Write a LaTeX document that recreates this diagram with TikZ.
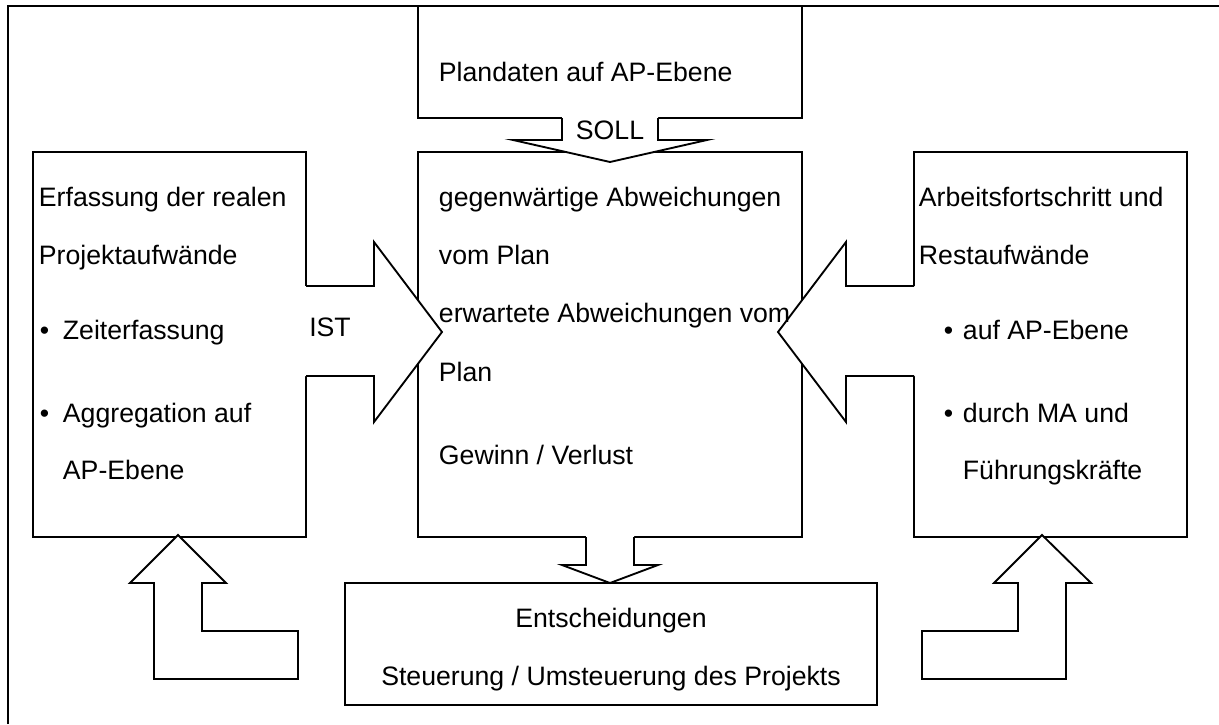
\documentclass[tikz,border=0pt]{standalone}
\usepackage{fontspec}
\setmainfont{Liberation Sans}
\usetikzlibrary{fit}
\begin{document}
\begin{tikzpicture}[x=0.75pt,y=-0.75pt,
  line width=1.4pt, line join=miter,
  box/.style={draw, inner sep=0pt, fill=white},
  blockarrow/.style={draw, fill=white},
  txt/.style={anchor=base west, inner sep=0pt, font=\fontsize{20}{24}\selectfont},
  ctxt/.style={anchor=base, inner sep=0pt, font=\fontsize{20}{24}\selectfont}]
\useasboundingbox (0,0) rectangle (1219,724);

% boxes
\node[box, fit={(418,6) (802,118)}] (plan) {};
\node[box, fit={(418,152) (802,537)}] (mid) {};
\node[box, fit={(33,152) (306,537)}] (ist) {};
\node[box, fit={(914,152) (1187,537)}] (rest) {};
\node[box, fit={(345,583) (877,705)}] (dec) {};

% frame lines
\draw (8,724) -- (8,6) -- (1219,6);

% SOLL arrow (plan -> mid)
\fill[white] (562,117) -- (562,140) -- (513,140) -- (610,162) -- (707,140) -- (658,140) -- (658,117) -- cycle;
\draw (562,118) -- (562,140) -- (513,140) -- (610,162) -- (707,140) -- (658,140) -- (658,118);
% IST arrow (ist -> mid)
\fill[white] (305,286) -- (374,286) -- (374,242) -- (442,332) -- (374,422) -- (374,376) -- (305,376) -- cycle;
\draw (306,286) -- (374,286) -- (374,242) -- (442,332) -- (374,422) -- (374,376) -- (306,376);
% arrow rest -> mid
\fill[white] (915,286) -- (846,286) -- (846,242) -- (778,332) -- (846,422) -- (846,376) -- (915,376) -- cycle;
\draw (914,286) -- (846,286) -- (846,242) -- (778,332) -- (846,422) -- (846,376) -- (914,376);
% arrow mid -> dec
\fill[white] (586,536) -- (586,565) -- (562,565) -- (610,583) -- (658,565) -- (634,565) -- (634,536) -- cycle;
\draw (586,537) -- (586,565) -- (562,565) -- (610,583) -- (658,565) -- (634,565) -- (634,537);
% bent arrows back up
\draw[blockarrow] (154,679) -- (154,583) -- (130,583) -- (178,535) -- (226,583) -- (202,583) -- (202,631) -- (298,631) -- (298,679) -- cycle;
\draw[blockarrow] (1066,679) -- (1066,583) -- (1091,583) -- (1042,535) -- (994,583) -- (1018,583) -- (1018,631) -- (922,631) -- (922,679) -- cycle;

% texts
\node[txt] (t1) at (438,81) {Plandaten auf AP-Ebene};
\node[ctxt] (soll) at (610,139) {SOLL};
\node[ctxt] (istlbl) at (330,336) {IST};

\node[txt] (l1) at (38,206) {Erfassung der realen};
\node[txt] (l2) at (38,264) {Projektaufwände};
\node[txt] (l3b) at (39,339) {•};
\node[txt] (l3) at (62,339) {Zeiterfassung};
\node[txt] (l4b) at (39,422) {•};
\node[txt] (l4) at (62,422) {Aggregation auf};
\node[txt] (l5) at (62,479) {AP-Ebene};

\node[txt] (m1) at (438,206) {gegenwärtige Abweichungen};
\node[txt] (m2) at (438,264) {vom Plan};
\node[txt] (m3) at (438,322) {erwartete Abweichungen vom};
\node[txt] (m4) at (438,381) {Plan};
\node[txt] (m5) at (438,464) {Gewinn / Verlust};

\node[txt] (r1) at (918,206) {Arbeitsfortschritt und};
\node[txt] (r2) at (918,264) {Restaufwände};
\node[txt] (r3b) at (943,339) {•};
\node[txt] (r3) at (962,339) {auf AP-Ebene};
\node[txt] (r4b) at (943,422) {•};
\node[txt] (r4) at (962,422) {durch MA und};
\node[txt] (r5) at (962,479) {Führungskräfte};

\node[ctxt] (d1) at (611,627) {Entscheidungen};
\node[ctxt] (d2) at (611,685) {Steuerung / Umsteuerung des Projekts};
\end{tikzpicture}
\end{document}
